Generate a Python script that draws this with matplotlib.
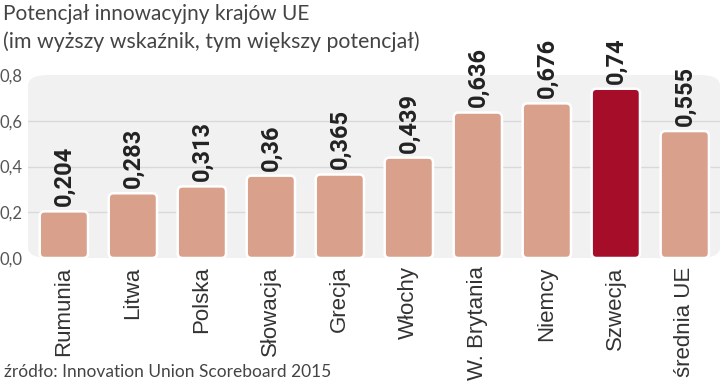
import numpy as np
import matplotlib.pyplot as plt
from matplotlib.patches import FancyBboxPatch

countries = ["Rumunia", "Litwa", "Polska", "Słowacja", "Grecja", "Włochy",
             "W. Brytania", "Niemcy", "Szwecja", "średnia UE"]
values = [0.204, 0.283, 0.313, 0.36, 0.365, 0.439, 0.636, 0.676, 0.74, 0.555]
value_labels = ["0,204", "0,283", "0,313", "0,36", "0,365", "0,439",
                "0,636", "0,676", "0,74", "0,555"]
highlight = "Szwecja"
yticks = [0.0, 0.2, 0.4, 0.6, 0.8]
ytick_labels = ["0,0", "0,2", "0,4", "0,6", "0,8"]

light = ["Lato", "DejaVu Sans"]
bold = ["Roboto", "DejaVu Sans"]

fig = plt.figure(figsize=(7.2, 3.84), dpi=100)
ax = fig.add_axes([28 / 720, (384 - 258) / 384, 1 - 28 / 720, (258 - 75) / 384])
ax.set_xlim(-0.52, 9.51)
ax.set_ylim(0, 0.8)

# rounded gray background
ax.patch.set_visible(False)
bg = FancyBboxPatch((0, 0), 1, 1, boxstyle="round,pad=0,rounding_size=0.03",
                    transform=ax.transAxes, facecolor="#f1f1f1", edgecolor="none",
                    zorder=0, mutation_aspect=720 / 183 * 0.5)
ax.add_patch(bg)

for y in yticks[1:4]:
    ax.axhline(y, color="#d9d9d9", lw=1, zorder=1)

x = np.arange(len(countries))
colors = ["#a50d28" if c == highlight else "#d9a18b" for c in countries]
bars = ax.bar(x, values, width=0.7, color=colors, zorder=2)

# swap plain rectangles for rounded ones
for b in bars:
    b.set_visible(False)
    rb = FancyBboxPatch((b.get_x(), b.get_y()), b.get_width(), b.get_height(),
                        boxstyle="round,pad=0,rounding_size=0.07",
                        mutation_aspect=0.8 / 183 * 69,
                        facecolor=b.get_facecolor(), edgecolor="white",
                        linewidth=1.8, zorder=2)
    ax.add_patch(rb)

for xi, v, lab in zip(x, values, value_labels):
    ax.text(xi, v + 0.022, lab, rotation=90, ha="center", va="bottom",
            fontsize=17, fontweight="bold", color="#222222", family=bold,
            clip_on=False, zorder=3)

ax.set_xticks(x)
ax.set_xticklabels(countries, rotation=90, fontsize=16, color="#333333",
                   family=["Liberation Sans", "DejaVu Sans"])
ax.tick_params(axis="x", length=0, pad=6)
ax.set_yticks(yticks)
ax.set_yticklabels(ytick_labels, fontsize=12, color="#555555", family=light)
ax.tick_params(axis="y", length=0, pad=4)
for s in ax.spines.values():
    s.set_visible(False)

fig.text(3 / 720, 1 - 14 / 384, "Potencjał innowacyjny krajów UE", fontsize=15,
         color="#444444", family=light, va="center", ha="left")
fig.text(3 / 720, 1 - 42 / 384, "(im wyższy wskaźnik, tym większy potencjał)",
         fontsize=15.3, color="#444444", family=light, va="center", ha="left")
fig.text(4 / 720, 1 - 372 / 384, "źródło: Innovation Union Scoreboard 2015",
         fontsize=12.5, color="#444444", family=light, va="center", ha="left")

fig.savefig("out.png", dpi=100)
